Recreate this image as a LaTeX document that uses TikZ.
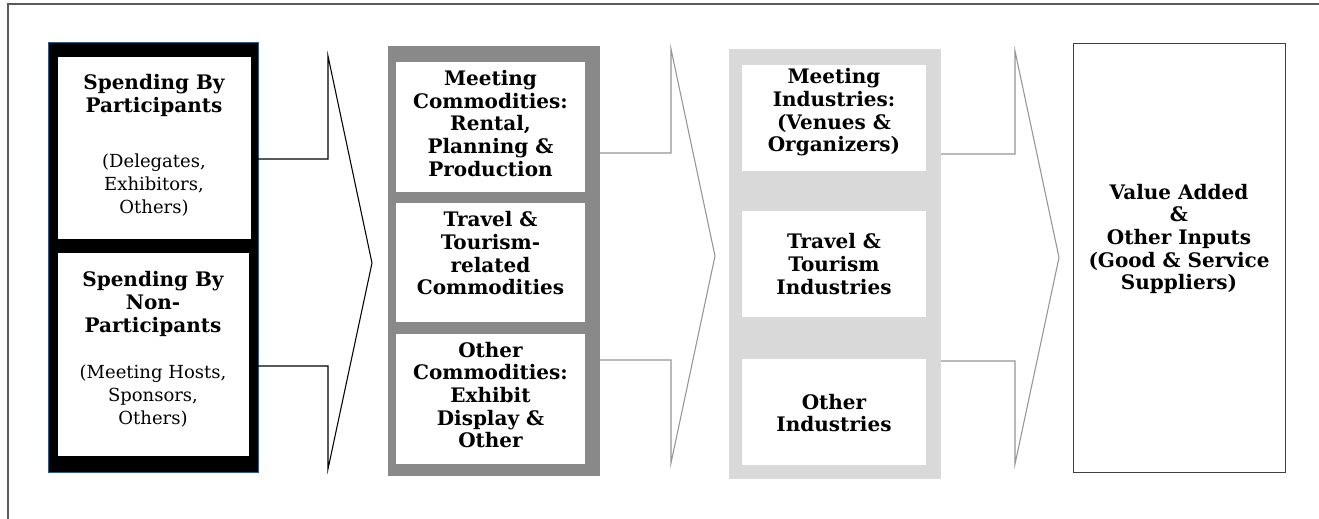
\documentclass[tikz,border=0pt]{standalone}
\usepackage{fontspec}
\setmainfont{DejaVu Serif}
\definecolor{framecol}{HTML}{5A5A5A}
\definecolor{edgeblue}{HTML}{2E5C8A}
\definecolor{midgray}{HTML}{898989}
\definecolor{paleg}{HTML}{D9D9D9}
\definecolor{linkgray}{HTML}{959595}
\definecolor{boxedge}{HTML}{404040}
\newcommand{\pxbox}[6]{\node[#2, anchor=north west, minimum width={(#5-#3)*0.75pt}, minimum height={(#6-#4)*0.75pt}] (#1) at (#3,#4) {};}
\tikzset{
  base/.style={inner sep=0pt, outer sep=0pt, rectangle},
  col1/.style={base, fill=black, draw=edgeblue, line width=0.75pt},
  col2/.style={base, fill=midgray},
  col3/.style={base, fill=paleg},
  col4/.style={base, fill=white, draw=boxedge, line width=0.75pt},
  wbox/.style={base, fill=white},
  btxt/.style={align=center, inner sep=0pt, font=\fontsize{15}{17}\selectfont\bfseries},
  rtxt/.style={align=center, inner sep=0pt, font=\fontsize{13.5}{17}\selectfont},
  linkblack/.style={draw=black, line width=0.8pt, line join=miter},
  linkgrey/.style={draw=linkgray, line width=0.8pt, line join=miter},
  framestyle/.style={draw=framecol, line width=0.9pt}
}
\begin{document}
\begin{tikzpicture}[x=0.75pt,y=-0.75pt]
\useasboundingbox (0,0) rectangle (1319,518);
% outer frame
\coordinate (fa) at (8,520);
\coordinate (fb) at (8,4);
\coordinate (fc) at (1321,4);
\draw[framestyle] (fa) -- (fb) -- (fc);

% column 1
\pxbox{c1}{col1}{48}{42}{258}{472}
\pxbox{c1a}{wbox}{58}{57}{251}{239}
\pxbox{c1b}{wbox}{58}{253}{249}{456}
\node[btxt] (t1a) at (154,95.5) {Spending By\\Participants};
\node[rtxt] (t1ar) at (154,185) {(Delegates,\\Exhibitors,\\Others)};
\node[btxt] (t1b) at (153,304) {Spending By\\Non-\\Participants};
\node[rtxt] (t1br) at (153,396) {(Meeting Hosts,\\Sponsors,\\Others)};

% column 2
\pxbox{c2}{col2}{388}{46}{600}{476}
\pxbox{c2a}{wbox}{396}{62}{585}{192}
\pxbox{c2b}{wbox}{396}{203}{585}{322}
\pxbox{c2c}{wbox}{396}{334}{585}{464}
\node[btxt] (t2a) at (490.5,123.5) {Meeting\\Commodities:\\Rental,\\Planning \&\\Production};
\node[btxt] (t2b) at (490.5,253.5) {Travel \&\\Tourism-\\related\\Commodities};
\node[btxt] (t2c) at (490.5,395) {Other\\Commodities:\\Exhibit\\Display \&\\Other};

% column 3
\pxbox{c3}{col3}{729}{49}{941}{479}
\pxbox{c3a}{wbox}{742}{65}{926}{171}
\pxbox{c3b}{wbox}{742}{211}{926}{317}
\pxbox{c3c}{wbox}{742}{359}{926}{465}
\node[btxt] (t3a) at (834,112.5) {Meeting\\Industries:\\(Venues \&\\Organizers)};
\node[btxt] (t3b) at (834,264) {Travel \&\\Tourism\\Industries};
\node[btxt] (t3c) at (834,413) {Other\\Industries};

% column 4
\pxbox{c4}{col4}{1073}{43}{1285}{472}
\node[btxt] (t4) at (1179,239) {Value Added\\\&\\Other Inputs\\(Good \& Service\\Suppliers)};

% connector 1
\coordinate (k1a) at (328,159);
\coordinate (k1b) at (328,56);
\coordinate (k1p) at (372,263);
\coordinate (k1c) at (328,469);
\coordinate (k1d) at (328,366);
\draw[linkblack] (c1.east |- k1a) -- (k1a) -- (k1b) -- (k1p) -- (k1c) -- (k1d) -- (c1.east |- k1d);

% connector 2
\coordinate (k2a) at (671,153);
\coordinate (k2b) at (671,49);
\coordinate (k2p) at (715,256);
\coordinate (k2c) at (671,463);
\coordinate (k2d) at (671,360);
\draw[linkgrey] (c2.east |- k2a) -- (k2a) -- (k2b) -- (k2p) -- (k2c) -- (k2d) -- (c2.east |- k2d);

% connector 3
\coordinate (k3a) at (1015,154);
\coordinate (k3b) at (1015,51);
\coordinate (k3p) at (1059,257.5);
\coordinate (k3c) at (1015,464);
\coordinate (k3d) at (1015,361);
\draw[linkgrey] (c3.east |- k3a) -- (k3a) -- (k3b) -- (k3p) -- (k3c) -- (k3d) -- (c3.east |- k3d);
\end{tikzpicture}
\end{document}
